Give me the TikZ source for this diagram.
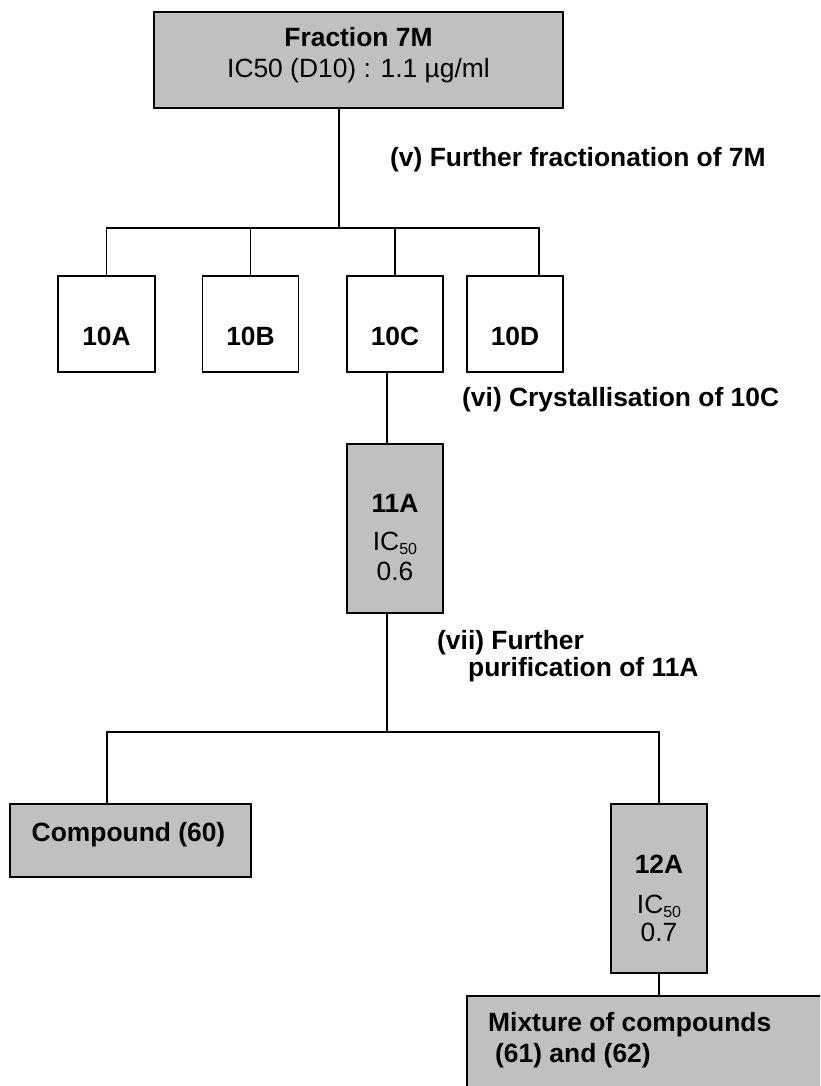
\documentclass[tikz,border=0pt]{standalone}
\usepackage{fontspec}
\setmainfont{Liberation Sans}
\definecolor{boxgrey}{HTML}{C0C0C0}
\newcommand{\fsz}{\fontsize{26.4}{31}\selectfont}
\newcommand{\subfifty}{{\fontsize{16}{16}\selectfont\raisebox{-4pt}{50}}}
\begin{document}
\begin{tikzpicture}[x=1pt,y=-1pt,
  box/.style={draw=black,line width=1.9pt,fill=white,inner sep=0pt,rectangle},
  gbox/.style={box,fill=boxgrey},
  conn/.style={line width=1.8pt,line cap=rect},
  txt/.style={inner sep=0pt,font=\fsz,anchor=base},
  ltxt/.style={inner sep=0pt,font=\fsz\bfseries,anchor=base west},
  btxt/.style={txt,font=\fsz\bfseries}]
\path[use as bounding box,fill=white] (0,0) rectangle (820,1086);

% boxes
\node[gbox,minimum width=409pt,minimum height=96pt] (top) at (358.5,60) {};
\node[box,minimum width=97pt,minimum height=96pt] (b10A) at (106.5,324) {};
\node[box,minimum width=96pt,minimum height=96pt] (b10B) at (250.5,324) {};
\node[box,minimum width=96pt,minimum height=96pt] (b10C) at (395,324) {};
\node[box,minimum width=96pt,minimum height=96pt] (b10D) at (515,324) {};
\node[gbox,minimum width=96pt,minimum height=169pt] (b11A) at (395,528.5) {};
\node[gbox,minimum width=241pt,minimum height=73pt] (bComp) at (130.5,840.5) {};
\node[gbox,minimum width=96pt,minimum height=169pt] (b12A) at (659,888.5) {};
\begin{scope}
\clip (0,0) rectangle (820,1086);
\node[gbox,minimum width=400pt,minimum height=120pt] (bMix) at (667,1056) {};
\end{scope}

% junction coordinates
\coordinate (j1) at (339,228);
\coordinate (d10D) at (539,228);
\coordinate (c1) at (387,0);
\coordinate (j2) at (387,732);
\coordinate (d60) at (107,732);

% connectors
\draw[conn] (top.south -| j1) -- (j1);
\draw[conn] (b10A.north) |- (d10D) -- (d10D |- b10D.north);
\draw[conn] (b10B.north) -- (b10B.north |- j1);
\draw[conn] (b10C.north) -- (b10C.north |- j1);
\draw[conn] (b10C.south -| c1) -- (b11A.north -| c1);
\draw[conn] (b11A.south -| c1) -- (j2);
\draw[conn] (bComp.north -| d60) -- (d60) -| (b12A.north);
\draw[conn] (b12A.south) -- (b12A.south |- bMix.north);

% texts
\node[btxt] (t7M) at (358.5,47) {Fraction 7M};
\node[txt] (t7Mic) at (358.5,78) {IC50 (D10) : 1.1 µg/ml};
\node[ltxt] (lv) at (390,167) {(v) Further fractionation of 7M};
\node[btxt] (t10A) at (106.5,345) {10A};
\node[btxt] (t10B) at (250.5,345) {10B};
\node[btxt] (t10C) at (395,345) {10C};
\node[btxt] (t10D) at (515,345) {10D};
\node[ltxt] (lvi) at (462,406) {(vi) Crystallisation of 10C};
\node[btxt] (t11A) at (395,512) {11A};
\node[txt] (t11Aic) at (395,550) {IC\subfifty};
\node[txt] (t11Av) at (395,580) {0.6};
\node[ltxt] (lvii) at (437,649) {(vii) Further};
\node[ltxt] (lvii2) at (468,676) {purification of 11A};
\node[btxt] (tComp) at (128.5,841) {Compound (60)};
\node[btxt] (t12A) at (659,873) {12A};
\node[txt] (t12Aic) at (659,913) {IC\subfifty};
\node[txt] (t12Av) at (659,941) {0.7};
\node[ltxt] (tMix) at (488,1031) {Mixture of compounds};
\node[ltxt] (tMix2) at (495,1062) {(61) and (62)};
\end{tikzpicture}
\end{document}
